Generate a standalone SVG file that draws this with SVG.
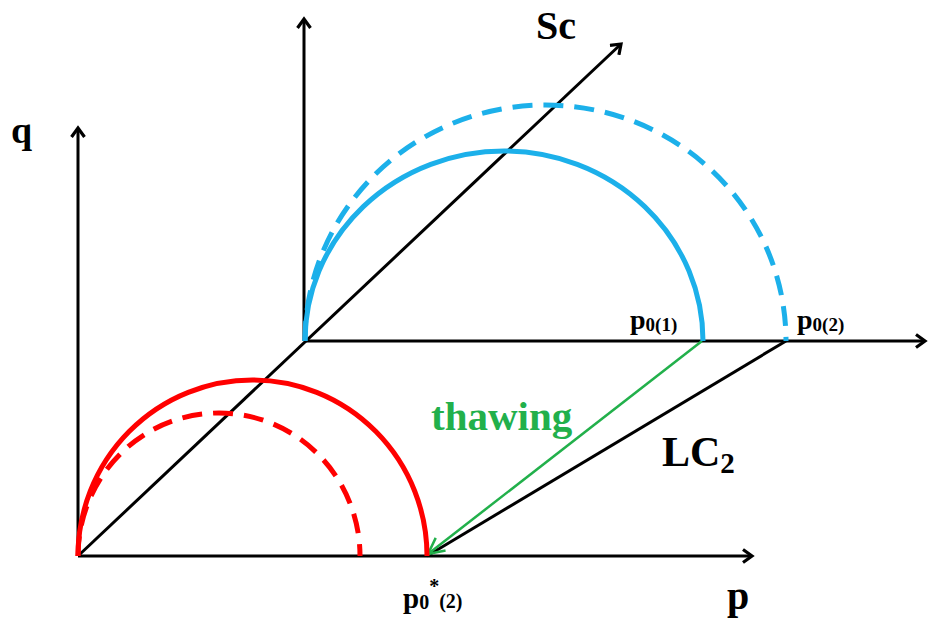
<svg xmlns="http://www.w3.org/2000/svg" width="928" height="622" viewBox="0 0 928 622">
<style>
.ax{stroke:#000;stroke-width:3;fill:none}
.blue{stroke:#1cb0ea;stroke-width:5;fill:none}
.red{stroke:#ff0000;stroke-width:5;fill:none}
.dash{stroke-dasharray:20 11}
.t{font-family:"Liberation Serif","Times New Roman",serif;font-weight:bold;fill:#000}
</style>
<defs>
<marker id="ah" markerWidth="16" markerHeight="16" refX="11" refY="8" orient="auto" markerUnits="userSpaceOnUse">
<path d="M2,1.5 L11,8 L2,14.5" fill="none" stroke="#000" stroke-width="3.2"/>
</marker>
<marker id="gh" markerWidth="20" markerHeight="20" refX="18" refY="10" orient="auto" markerUnits="userSpaceOnUse">
<path d="M2,2 L18,10 L2,18" fill="none" stroke="#22b04b" stroke-width="2.5"/>
</marker>
</defs>
<rect width="928" height="622" fill="#fff"/>
<g id="connectors">
<line class="ax" x1="78" y1="556" x2="78" y2="128" marker-end="url(#ah)"/>
<line class="ax" x1="78" y1="556" x2="752" y2="556" marker-end="url(#ah)"/>
<line class="ax" x1="304" y1="341" x2="304" y2="19" marker-end="url(#ah)"/>
<line class="ax" x1="304" y1="341" x2="925" y2="341" marker-end="url(#ah)"/>
<line class="ax" x1="78" y1="556" x2="621" y2="44" marker-end="url(#ah)"/>
<line class="ax" x1="786" y1="341" x2="427" y2="556"/>
<line x1="702" y1="341" x2="428" y2="554" stroke="#22b04b" stroke-width="2.5" marker-end="url(#gh)"/>
</g>
<g id="blue-solid"><path class="blue" d="M305 341 A199 190 0 0 1 703 341"/></g>
<g id="blue-dashed"><path class="blue dash" d="M305 341 A240.5 236 0 0 1 786 341"/></g>
<g id="red-solid"><path class="red" d="M78 556 A174.5 176 0 0 1 427 556"/></g>
<g id="red-dashed"><path class="red dash" d="M78 556 A141 143 0 0 1 360 556"/></g>
<g id="labels">
<text class="t" x="11" y="143" font-size="38">q</text>
<text class="t" x="536" y="39" font-size="40">Sc</text>
<text class="t" x="630" y="329" font-size="28">p<tspan font-size="19" dy="2">0(1)</tspan></text>
<text class="t" x="797" y="329" font-size="28">p<tspan font-size="19" dy="2">0(2)</tspan></text>
<text class="t" x="431" y="430" font-size="41" style="fill:#22b04b">thawing</text>
<text class="t" x="662" y="466" font-size="42">LC<tspan font-size="29" dy="7">2</tspan></text>
<text class="t" x="403" y="608" font-size="29">p<tspan font-size="20" dy="1">0</tspan><tspan font-size="20" dy="-16">*</tspan><tspan font-size="20" dy="15">(2)</tspan></text>
<text class="t" x="727" y="609" font-size="40">p</text>
</g>
</svg>
